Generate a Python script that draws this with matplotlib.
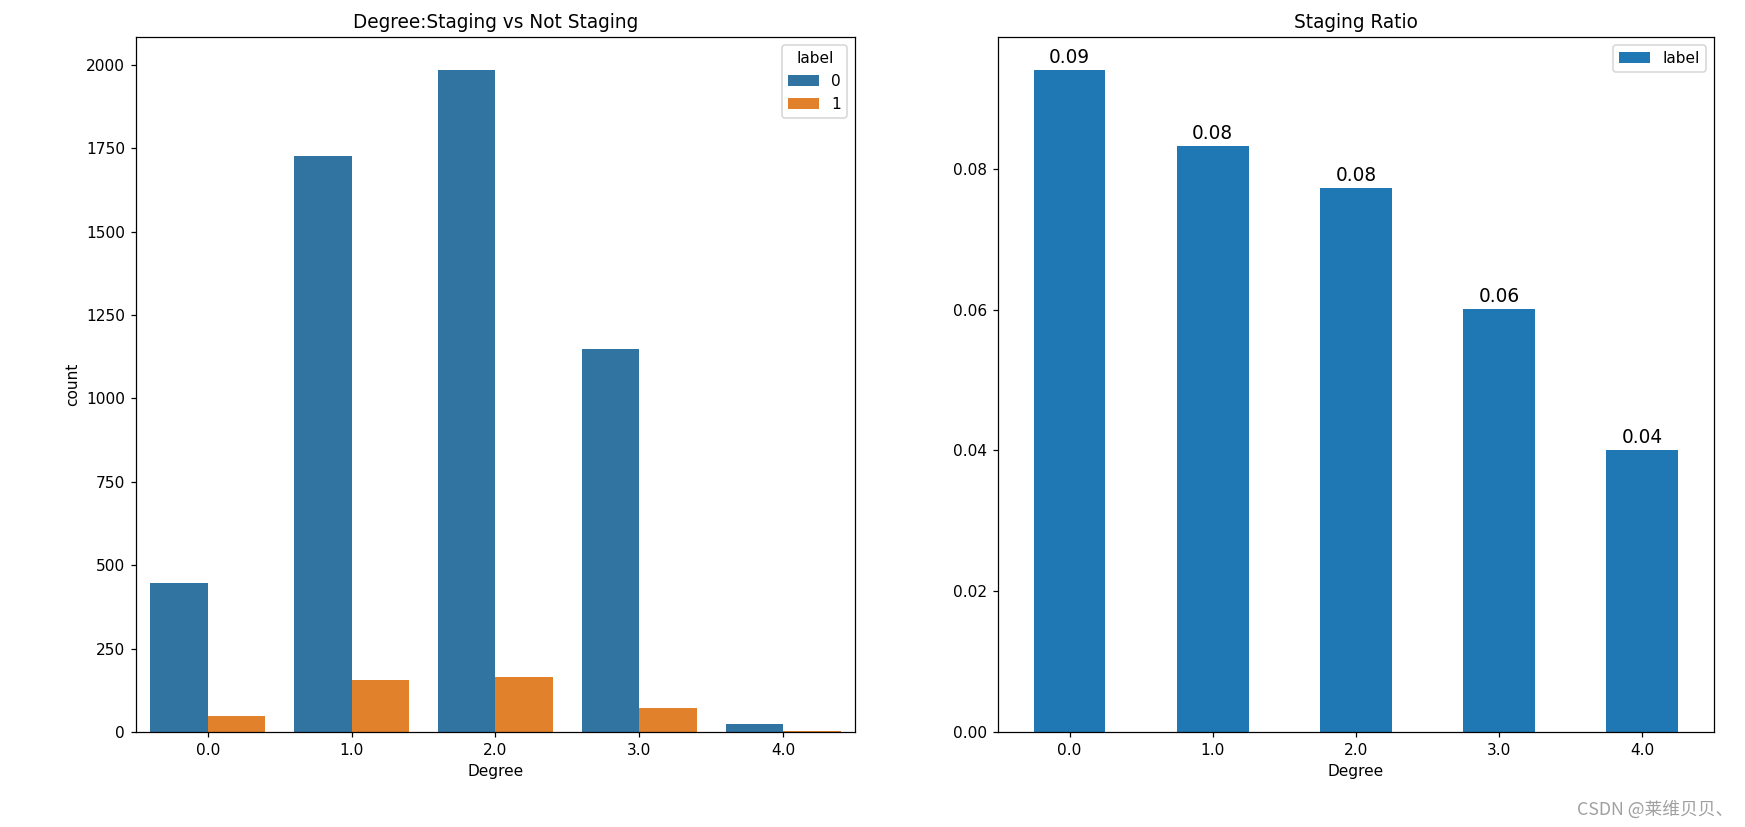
import matplotlib
matplotlib.use("Agg")
import matplotlib.pyplot as plt
import numpy as np

degrees = ["0.0", "1.0", "2.0", "3.0", "4.0"]
count_label0 = [446, 1728, 1984, 1148, 23]
count_label1 = [47, 156, 166, 73, 3]
staging_ratio = [0.0940, 0.0832, 0.0773, 0.0601, 0.0401]

plt.rcParams['font.family'] = ['DejaVu Sans']

DPI = 111
fig = plt.figure(figsize=(1745 / DPI, 827 / DPI), dpi=DPI)
ax1 = fig.add_axes([0.0779, 0.115, 0.4121, 0.840])
ax2 = fig.add_axes([0.572, 0.115, 0.410, 0.840])

x = np.arange(len(degrees))
w = 0.4
ax1.bar(x - w / 2, count_label0, width=w, color='#3274a1', label='0')
ax1.bar(x + w / 2, count_label1, width=w, color='#e1812c', label='1')
ax1.set_xticks(x)
ax1.set_xticklabels(degrees)
ax1.set_xlim(-0.5, len(degrees) - 0.5)
ax1.set_xlabel('Degree')
ax1.set_ylabel('count')
ax1.set_title('Degree:Staging vs Not Staging')
ax1.legend(title='label', loc='upper right')

bars = ax2.bar(x, staging_ratio, width=0.5, color='#1f77b4', label='label')
ax2.set_xticks(x)
ax2.set_xticklabels(degrees, rotation=0)
ax2.set_xlim(-0.5, len(degrees) - 0.5)
ax2.set_xlabel('Degree')
ax2.set_title('Staging Ratio')
ax2.legend(loc='upper right')
for b, v in zip(bars, staging_ratio):
    ax2.annotate(f"{v:.2f}", (b.get_x() + b.get_width() / 2, b.get_height()),
                 ha='center', va='bottom', fontsize=12, xytext=(0, 2),
                 textcoords='offset points')

fig.text(0.993, 0.021, 'CSDN @莱维贝贝、', ha='right', va='center', fontsize=11.5,
         color='#a0a0a0', family=['Noto Sans CJK SC', 'DejaVu Sans'])

fig.savefig('out.png', dpi=DPI)
